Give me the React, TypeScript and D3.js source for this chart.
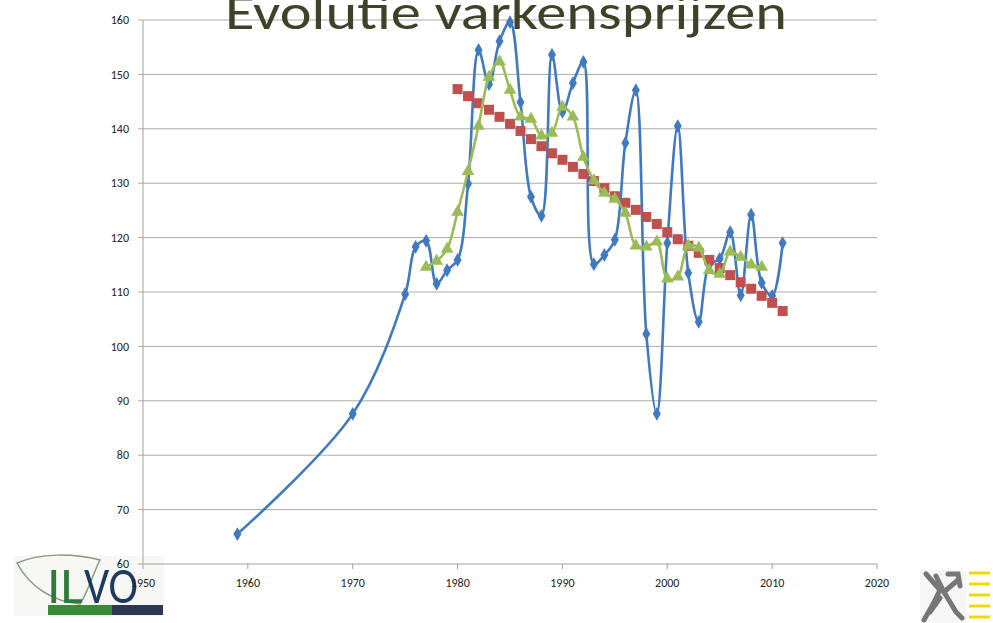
import React from 'react';
import * as d3 from 'd3';

// price index per year (blue series)
const priceYears = [1959, 1970, 1975, 1976, 1977, 1978, 1979, 1980, 1981, 1982, 1983, 1984, 1985, 1986, 1987, 1988, 1989, 1990,
  1991, 1992, 1993, 1994, 1995, 1996, 1997, 1998, 1999, 2000, 2001, 2002, 2003, 2004, 2005, 2006, 2007, 2008, 2009, 2010, 2011];
const priceValues = [65.5, 87.6, 109.6, 118.3, 119.4, 111.5, 114.0, 115.9, 129.9, 154.5, 148.2, 156.1, 159.6, 144.9, 127.5, 124.0, 153.6, 143.1,
  148.4, 152.3, 115.1, 116.8, 119.6, 137.4, 147.1, 102.3, 87.6, 119.0, 140.5, 113.5, 104.5, 115.0, 116.1, 121.0, 109.4, 124.2, 111.7, 109.3, 119.0];

// trend (red squares), 1980 - 2011
const trendStart = 1980;
const trendValues = [147.3, 146.0, 144.7, 143.5, 142.2, 140.9, 139.6, 138.1, 136.8, 135.5, 134.3, 133.0, 131.7, 130.4, 129.1, 127.6,
  126.4, 125.1, 123.8, 122.5, 121.0, 119.7, 118.5, 117.2, 115.9, 114.4, 113.1, 111.8, 110.6, 109.3, 108.0, 106.5];

// moving average (green triangles), 1977 - 2009
const avgStart = 1977;
const avgValues = [114.6, 115.7, 117.9, 124.7, 132.2, 140.5, 149.5, 152.3, 147.1, 142.2, 141.8, 138.7, 139.2, 144.0, 142.2, 134.8,
  130.5, 128.2, 127.1, 124.5, 118.5, 118.3, 119.2, 112.4, 112.8, 118.5, 118.1, 114.0, 113.3, 117.4, 116.4, 115.0, 114.6];

const yTicks = [60, 70, 80, 90, 100, 110, 120, 130, 140, 150, 160];
const xTicks = [1950, 1960, 1970, 1980, 1990, 2000, 2010, 2020];

const W = 993, H = 623;
const font = 'Carlito, "Open Sans", "Noto Sans", sans-serif';

export default function App() {
  const x = d3.scaleLinear().domain([1950, 2020]).range([143, 877]);
  const y = d3.scaleLinear().domain([60, 160]).range([564, 20]);

  const price = priceYears.map((yr, i) => [yr, priceValues[i]] as [number, number]);
  const trend = trendValues.map((v, i) => [trendStart + i, v] as [number, number]);
  const avg = avgValues.map((v, i) => [avgStart + i, v] as [number, number]);

  const line = d3.line<[number, number]>()
    .x(d => x(d[0]))
    .y(d => y(d[1]))
    .curve(d3.curveCatmullRom.alpha(0.5));

  const diamond = d3.symbol().type(d3.symbolDiamond).size(55)()!;
  const triangle = d3.symbol().type(d3.symbolTriangle).size(70)()!;

  return (
    <svg width={W} height={H} style={{ position: 'absolute', left: 0, top: 0, background: '#fff' }}>
      {/* ILVO logo (behind the axis labels) */}
      <g>
        <rect x={14} y={556} width={150} height={60} fill="#f7f8f6" />
        <path d="M17,563 C40,553 72,553 100,560 C92,576 88,592 80,604 C55,602 30,588 17,563 Z" fill="none" stroke="#8a9a78" strokeWidth={1.5} />
        <text x={47} y={603} fontFamily={font} fontSize={52} fill="#2f7a3a" textLength={36} lengthAdjust="spacingAndGlyphs">IL</text>
        <text x={84} y={603} fontFamily={font} fontSize={52} fill="#1e3a5f" textLength={54} lengthAdjust="spacingAndGlyphs">VO</text>
        <rect x={48} y={605} width={64} height={10} fill="#3b8a3a" />
        <rect x={112} y={605} width={51} height={10} fill="#2a3852" />
      </g>

      {/* Flemish lion logo */}
      <g>
        <rect x={920} y={570} width={46} height={53} fill="#f6f6f6" />
        <path d="M926,574 L940,590 L932,606 L924,620 M936,576 L944,592 L958,580 M944,592 L956,612 L962,618 M940,598 L930,612 M948,574 L958,574 L960,586"
          fill="none" stroke="#777" strokeWidth={5} strokeLinecap="round" />
        {[573, 584, 595, 606, 617].map(yy => (
          <line key={yy} x1={969} x2={990} y1={yy} y2={yy} stroke="#f2d800" strokeWidth={3} />
        ))}
      </g>

      {/* gridlines and axes */}
      {yTicks.map(t => (
        <g key={t}>
          <line x1={x(1950) - 5} x2={x(2020)} y1={y(t)} y2={y(t)} stroke={t === 60 ? '#a0a0a0' : '#ababab'} strokeWidth={1} />
          <text x={129} y={y(t)} dy="0.35em" textAnchor="end" fontFamily={font} fontSize={12} fill="#222">{t}</text>
        </g>
      ))}
      <line x1={x(1950)} x2={x(1950)} y1={y(160)} y2={y(60)} stroke="#a0a0a0" />
      {xTicks.map(t => (
        <g key={t}>
          <line x1={x(t)} x2={x(t)} y1={y(60)} y2={y(60) + 5} stroke="#a0a0a0" />
          <text x={x(t)} y={583} dy="0.35em" textAnchor="middle" fontFamily={font} fontSize={12} fill="#222">{t}</text>
        </g>
      ))}

      {/* title */}
      <text x={225} y={29} fontFamily={font} fontSize={50} fill="#3f4229" textLength={562} lengthAdjust="spacingAndGlyphs">
        Evolutie varkensprijzen
      </text>

      {/* series */}
      <path d={line(price)!} fill="none" stroke="#3f79bf" strokeWidth={2.6} />
      {price.map((d, i) => (
        <path key={'p' + i} d={diamond} transform={`translate(${x(d[0])},${y(d[1])})`} fill="#3f79bf" />
      ))}
      {trend.map((d, i) => (
        <rect key={'t' + i} x={x(d[0]) - 5} y={y(d[1]) - 5} width={10} height={10} fill="#c0504d" />
      ))}
      <path d={line(avg)!} fill="none" stroke="#9bbb59" strokeWidth={2.6} />
      {avg.map((d, i) => (
        <path key={'a' + i} d={triangle} transform={`translate(${x(d[0])},${y(d[1])})`} fill="#9bbb59" />
      ))}
    </svg>
  );
}
